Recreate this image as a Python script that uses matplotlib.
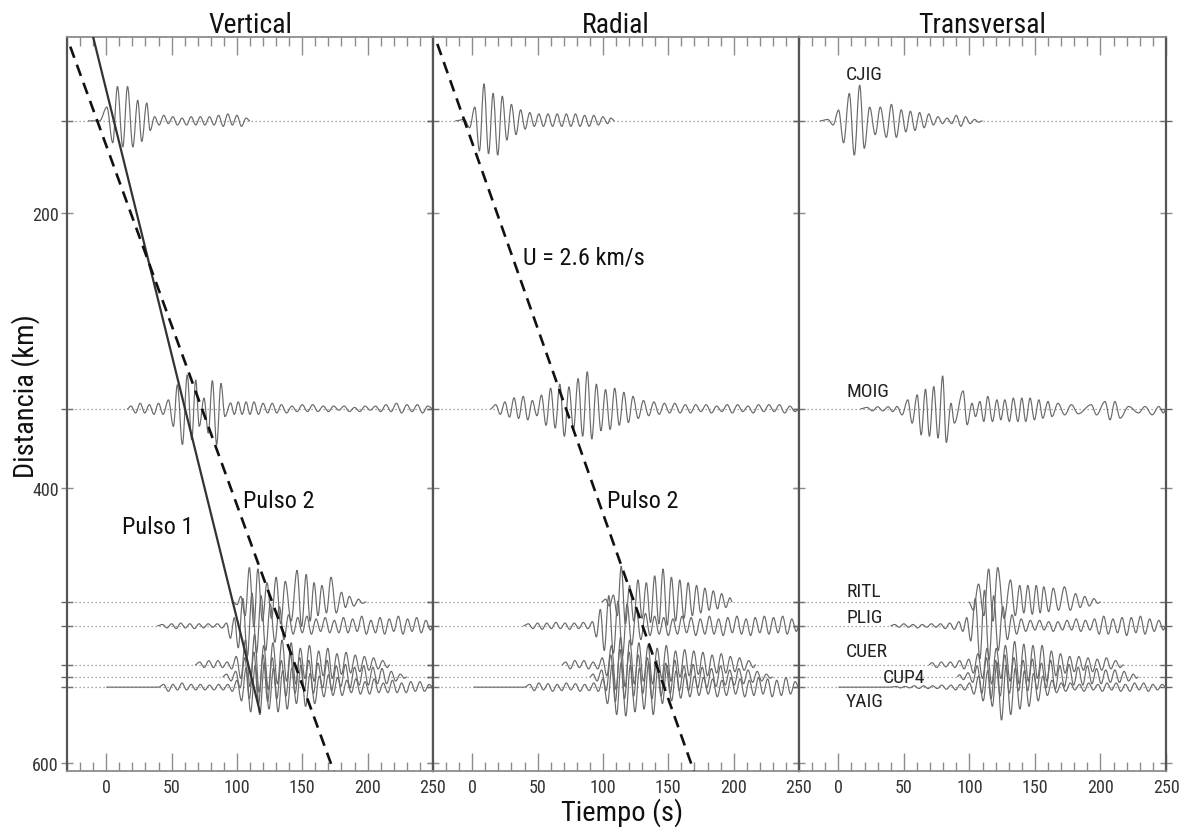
import matplotlib
matplotlib.use("Agg")
import matplotlib.pyplot as plt
import matplotlib.font_manager as fm
from matplotlib.path import Path
from matplotlib.patches import PathPatch
from matplotlib.ticker import MultipleLocator, FixedLocator

# ---------------- data ----------------
components = ["Vertical", "Radial", "Transversal"]
stations = ["CJIG", "MOIG", "RITL", "PLIG", "CUER", "CUP4", "YAIG"]
distances = [133, 342.5, 483, 500.4, 528.7, 537.5, 545]  # km

xticks = [0, 50, 100, 150, 200, 250]
yticks = [200, 400, 600]

# Vertical traces: extrema times (s) and amplitudes (km, up positive)
cjig_z_t = [-14, -5, 0.5, 5, 8.6, 12.7, 16.3, 20.4, 24.1, 27.2, 31, 33.6, 37, 40.5, 44, 47.5, 51, 54.5, 58, 61.5, 65, 68.5, 72, 75.5, 79, 82.5, 86, 89.5, 93, 96.5, 100, 103.5, 107, 110]
cjig_z_a = [0, 0, 10, -16, 25, -19, 25, -19, 15, -15, 13, -7, 3, -3, 4, -2, 3, -3, 2, -3, 3, -3, 3, -3, 3, -3, 4, -4, 5, -3, 4, -4, 2, 0]
moig_z_t = [16, 19, 22.5, 26, 29.5, 33, 36.5, 40, 43.5, 47.6, 51.4, 54.4, 58.3, 62, 65.4, 68.5, 71.2, 74.8, 78.1, 81.2, 84.5, 87.8, 90.8, 95.2, 98, 101, 104, 107, 110, 113, 116.5, 120, 123.5, 127, 130.5, 134, 138, 142, 146, 150, 154, 158, 162, 166, 170, 174, 178, 182, 186, 190, 194, 198, 202, 206, 210, 214, 218, 222, 226, 230, 234, 238, 242, 246, 250]
moig_z_a = [0, 2, -3, 4, -3, 3, -4, 4, -4, 6.5, -12.8, 17.5, -26, 24.7, -22.5, 21, -12.8, 7.8, -17.7, 20.5, -26, 18.5, -5.6, 4.2, -4, 5, -4, 5, -4, 5, -4, 4, -3, 4, -3, 3, -3, 2, -2, 3, -2, 3, -2, 2, -2, 2, -1, 2, -2, 1, -2, 2, -1, 2, -2, 3, -2, 4, -3, 3, -2, 3, -3, 2, 0]
ritl_z_t = [97, 100, 103, 106.3, 109.5, 113, 116, 119.5, 123, 126.5, 130, 133.5, 137, 141.5, 146, 149.5, 153, 156, 159, 162, 165, 168.5, 172, 176, 180, 183, 186, 189.5, 193, 196, 199]
ritl_z_a = [0, -2, 4, -10, 25, -18, 24, -14, 14, -12, 18, -16, 15, -14, 23, -18, 20, -14, 14, -10, 12, -8, 18, -8, 7, -4, 4, -3, 2, -1, 0]
plig_z_t = [39, 43, 46.5, 50, 53.5, 57, 60.5, 64, 67.5, 71, 74.5, 78, 81.5, 85, 88.5, 92, 95, 98, 101, 104.5, 108, 111.5, 115, 118.5, 122, 125.5, 129, 132.5, 136, 139.5, 143, 146.5, 150, 153.5, 157, 160.5, 164, 167.5, 171, 174.5, 178, 181.5, 185, 188.5, 192, 195.5, 199, 202.5, 206, 209.5, 213, 216.5, 220, 223.5, 227, 230.5, 234, 237.5, 241, 244.5, 248, 250]
plig_z_a = [0, 1, -1.5, 1.5, -2, 2, -1.5, 1.5, -2, 1.5, -1.5, 1.5, -1, 1.5, -1.5, 2, -9, 6, -16, 20, -22, 24, -20, 22, -18, 16, -12, 14, -10, 8, -6, 6, -5, 7, -6, 5, -4, 6, -5, 4, -5, 6, -5, 5, -4, 7, -6, 4, -5, 6, -6, 5, -4, 7, -6, 5, -4, 6, -5, 4, -3, 0]
cuer_z_t = [68, 71.5, 75, 78.5, 82, 85.5, 89, 92.5, 96, 99.5, 103, 106.5, 110, 113.5, 117, 120.5, 124, 127.5, 131, 134.5, 138, 141.5, 145, 148.5, 152, 155.5, 159, 162.5, 166, 169.5, 173, 176.5, 180, 183.5, 187, 190.5, 194, 197.5, 201, 204.5, 208, 211.5, 215, 217]
cuer_z_a = [0, 2, -2, 3, -2, 3, -2, 2, -3, 6, -10, 18, -16, 22, -20, 14, -18, 16, -14, 18, -12, 16, -14, 12, -10, 14, -12, 10, -8, 12, -10, 8, -7, 9, -6, 7, -5, 6, -4, 5, -3, 3, -2, 0]
cup4_z_t = [89, 92, 95.5, 99, 102.5, 106, 109.5, 113, 116.5, 120, 123.5, 127, 130.5, 134, 137.5, 141, 144.5, 148, 151.5, 155, 158.5, 162, 165.5, 169, 172.5, 176, 179.5, 183, 186.5, 190, 193.5, 197, 200.5, 204, 207.5, 211, 214.5, 218, 221.5, 225, 228, 230]
cup4_z_a = [0, 2, -3, 4, -8, 14, -16, 18, -20, 16, -18, 14, -16, 12, -14, 16, -12, 14, -10, 12, -12, 10, -8, 12, -10, 8, -7, 9, -8, 7, -6, 8, -6, 7, -5, 6, -5, 4, -3, 2, -1, 0]
yaig_z_t = [0, 40, 44, 47.5, 51, 54.5, 58, 61.5, 65, 68.5, 72, 75.5, 79, 82.5, 86, 89.5, 93, 96.5, 100, 103.5, 107, 110.5, 114, 117.5, 121, 124.5, 128, 131.5, 135, 138.5, 142, 145.5, 149, 152.5, 156, 159.5, 163, 166.5, 170, 173.5, 177, 180.5, 184, 187.5, 191, 194.5, 198, 201.5, 205, 208.5, 212, 215.5, 219, 222.5, 226, 229.5, 233, 236.5, 240, 243.5, 247, 250]
yaig_z_a = [0, 0, 2, -3, 2, -2, 3, -2, 2, -2, 2, -2, 1.5, -2, 2, -2, 2, -3, 5, -10, 14, -18, 16, -20, 18, -16, 14, -18, 12, -16, 14, -12, 16, -14, 10, -12, 8, -7, 9, -6, 7, -6, 5, -4, 6, -5, 4, -5, 6, -4, 3, -4, 5, -4, 3, -4, 4, -3, 4, -3, 2, 0]

# Radial traces
cjig_r_t = [-13, -6, -2, 2, 5.5, 9, 12.5, 16, 19.5, 23, 26.5, 30, 33.5, 37, 40.5, 44, 47.5, 51, 54.5, 58, 61.5, 65, 68.5, 72, 75.5, 79, 82.5, 86, 89.5, 93, 96.5, 100, 103.5, 106, 109]
cjig_r_a = [0, 1, -5, 10, -22, 27, -24, 20, -25, 18, -14, 12, -10, 8, -6, 6, -4, 5, -4, 5, -4, 5, -4, 5, -4, 5, -4, 4, -4, 4, -3, 3, -2, 2, 0]
moig_r_t = [14, 18, 21.5, 25, 28.5, 32, 35.5, 39, 42.5, 46, 49.5, 53, 56.5, 60, 63.5, 67, 70.5, 74, 77.5, 81, 84.5, 88, 91.5, 95, 98.5, 102, 105.5, 109, 112.5, 116, 119.5, 123, 127, 131, 135, 139, 143, 147, 151, 155, 159, 163, 167, 171, 175, 179, 183, 187, 191, 195, 199, 203, 207, 211, 215, 219, 223, 227, 231, 235, 239, 243, 247, 250]
moig_r_a = [0, 3, -4, 5, -6, 8, -7, 9, -8, 6, -5, 10, -12, 15, -14, 18, -20, 16, -15, 22, -20, 27, -22, 18, -16, 14, -15, 15, -12, 12, -10, 9, -7, 6, -5, 5, -4, 4, -3, 4, -3, 3, -3, 3, -2, 3, -3, 2, -2, 3, -3, 3, -2, 2, -3, 3, -2, 3, -2, 3, -3, 2, -2, 0]
ritl_r_t = [99, 102, 105, 108, 111, 114, 117.2, 120.4, 123.6, 126.8, 130, 133.2, 136.4, 139.6, 142.8, 146, 149.2, 152.4, 155.6, 158.8, 162, 165.2, 168.4, 171.6, 174.8, 178, 181.2, 184.4, 187.6, 190.8, 194, 197.2, 199]
ritl_r_a = [0, 2, -3, 5, -10, 26, -16, 12, -14, 16, -12, 14, -15, 19, -16, 24, -17, 18, -14, 16, -12, 14, -10, 12, -8, 10, -6, 8, -5, 6, -4, 3, 0]
plig_r_t = [39, 43, 46.5, 50, 53.5, 57, 60.5, 64, 67.5, 71, 74.5, 78, 81.5, 85, 88.5, 92, 95, 98, 101, 104.5, 108, 111.5, 115, 118.5, 122, 125.5, 129, 132.5, 136, 139.5, 143, 146.5, 150, 153.5, 157, 160.5, 164, 167.5, 171, 174.5, 178, 181.5, 185, 188.5, 192, 195.5, 199, 202.5, 206, 209.5, 213, 216.5, 220, 223.5, 227, 230.5, 234, 237.5, 241, 244.5, 248, 250]
plig_r_a = [0, 1.5, -2, 2, -2.5, 2, -2, 2.5, -2, 2, -2.5, 2, -2, 2.5, -2, 3, -8, 12, -18, 22, -20, 18, -22, 16, -14, 12, -10, 9, -7, 7, -6, 6, -7, 5, -6, 7, -5, 6, -7, 5, -6, 7, -6, 5, -7, 6, -5, 7, -6, 5, -7, 6, -5, 7, -6, 6, -5, 7, -6, 5, -4, 0]
cuer_r_t = [68.5, 71.5, 75, 78.5, 82, 85.5, 89, 92.5, 96, 99.5, 103, 106.5, 110, 113.5, 117, 120.5, 124, 127.5, 131, 134.5, 138, 141.5, 145, 148.5, 152, 155.5, 159, 162.5, 166, 169.5, 173, 176.5, 180, 183.5, 187, 190.5, 194, 197.5, 201, 204.5, 208, 211.5, 215, 217]
cuer_r_a = [0, 2, -3, 3, -2, 3, -3, 2, -3, 5, -8, 14, -18, 20, -16, 18, -14, 16, -12, 14, -14, 12, -10, 14, -12, 10, -9, 11, -8, 10, -7, 9, -8, 7, -6, 8, -6, 6, -5, 5, -4, 3, -2, 0]
cup4_r_t = [90, 92.5, 95.5, 99, 102.5, 106, 109.5, 113, 116.5, 120, 123.5, 127, 130.5, 134, 137.5, 141, 144.5, 148, 151.5, 155, 158.5, 162, 165.5, 169, 172.5, 176, 179.5, 183, 186.5, 190, 193.5, 197, 200.5, 204, 207.5, 211, 214.5, 218, 221.5, 225, 228, 230]
cup4_r_a = [0, 2, -3, 5, -10, 16, -18, 20, -16, 18, -14, 16, -12, 14, -16, 12, -14, 10, -12, 12, -10, 8, -10, 9, -8, 7, -8, 6, -7, 8, -6, 5, -6, 6, -5, 5, -4, 4, -3, 2, -1, 0]
yaig_r_t = [1, 40, 44, 47.5, 51, 54.5, 58, 61.5, 65, 68.5, 72, 75.5, 79, 82.5, 86, 89.5, 93, 96.5, 100, 103.5, 107, 110.5, 114, 117.5, 121, 124.5, 128, 131.5, 135, 138.5, 142, 145.5, 149, 152.5, 156, 159.5, 163, 166.5, 170, 173.5, 177, 180.5, 184, 187.5, 191, 194.5, 198, 201.5, 205, 208.5, 212, 215.5, 219, 222.5, 226, 229.5, 233, 236.5, 240, 243.5, 247, 250]
yaig_r_a = [0, 0, 2, -2.5, 3, -2, 2.5, -3, 2, -2.5, 3, -2, 2.5, -3, 2, -2.5, 3, -3, 6, -12, 16, -20, 18, -21, 16, -18, 14, -16, 18, -20, 14, -12, 16, -10, 12, -8, 10, -7, 8, -6, 7, -5, 6, -7, 5, -6, 7, -5, 6, -7, 5, -6, 7, -5, 6, -7, 5, -6, 7, -5, 4, 0]

# Transversal traces
cjig_t_t = [-14, -8, -4, 0.2, 4, 8.4, 12.2, 16.3, 19.8, 23.9, 28.2, 32, 36.6, 40.5, 44.3, 48, 51.5, 55, 58.5, 62, 65.5, 69, 72.5, 76, 79.5, 83, 86.5, 90, 93.5, 97, 100.5, 104, 107, 110]
cjig_t_a = [0, 1, -3, 7.8, -16, 20, -25, 26, -20, 10, -10, 10, -12, 12, -12, 8, -8, 7, -7, 6, -5, 5, -3, 3, -2, 2, -2, 4, -4, 3, -2, 1, -1, 0]
moig_t_t = [16.8, 22, 26, 30, 34, 38, 41.5, 44.8, 48.6, 53, 56.3, 60.2, 63.2, 66.5, 69.5, 72.8, 76.1, 79.6, 82.4, 86, 88.5, 95.2, 98.3, 102, 104.7, 108, 111, 114, 117.6, 121, 124, 127, 130.5, 133.5, 137, 140, 143, 146.3, 149.6, 153, 156, 160, 163, 167.6, 172.7, 177.8, 183, 193, 197, 203.5, 207.3, 211, 215, 221.5, 229, 234, 239.5, 244.5, 248, 250]
moig_t_a = [0, 1, -1.5, 1.5, -1.5, 1.5, -2, 1.7, -4.4, 6.5, -10.4, 10.2, -19, 14.3, -20, 16.2, -21.3, 24, -24.5, 4, -10.4, 13, -11.6, 4, -5.6, 5.3, -9.2, 9, -9.2, 6.5, -8, 6.5, -9.2, 7.8, -9.2, 7.8, -9.2, 7.8, -8, 6.5, -6.8, 5.3, -5.6, 4, -4.4, 3, -3.6, 3, -4.4, 5.3, -8, 5.3, -6.8, 1.7, -3, 1.7, -4.4, 1.7, -3, 0]
ritl_t_t = [99.5, 103, 107, 111, 114.7, 118, 121.6, 126.5, 131.3, 135, 138.4, 141.5, 144.6, 148, 151, 154, 156.7, 160.5, 164, 168, 172.5, 177, 181, 184.5, 188, 191.5, 195, 198, 200]
ritl_t_a = [0, -6, 13, -10, 24, -14, 25, -12, 16, -10, 12, -8, 12, -9, 12, -8, 11, -7, 10, -6, 11, -6, 6, -4, 4, -3, 2.4, -1, 0]
plig_t_t = [39.7, 43, 46.5, 50, 53.5, 57, 60.5, 64, 67.5, 71, 74.5, 78, 81.5, 85, 88.5, 92, 95, 98, 101, 104.5, 108, 111.5, 115, 118.5, 122, 125.5, 129, 132.5, 136, 139.5, 143, 146.5, 150, 153.5, 157, 160.5, 164, 167.5, 171, 174.5, 178, 181.5, 185, 188.5, 192, 195.5, 199, 202.5, 206, 209.5, 213, 216.5, 220, 223.5, 227, 230.5, 234, 237.5, 241, 244.5, 248, 250]
plig_t_a = [0, 1, -1, 1.5, -1, 1, -1.5, 1, -1, 1.5, -1, 1.5, -2, 2, -2.5, 3, -4, 6, -11, 20, -24, 26, -25, 22, -18, 14, -10, 8, -6, 5, -4, 4, -3, 4, -3, 3, -4, 3, -3, 4, -3, 5, -4, 4, -3, 5, -6, 7, -6, 5, -5, 6, -7, 6, -5, 7, -6, 5, -4, 4, -3, 0]
cuer_t_t = [69, 71.5, 75, 78.5, 82, 85.5, 89, 92.5, 96, 99.5, 103, 106.5, 110, 113.5, 117, 120.5, 124, 127.5, 131, 134.5, 138, 141.5, 145, 148.5, 152, 155.5, 159, 162.5, 166, 169.5, 173, 176.5, 180, 183.5, 187, 190.5, 194, 197.5, 201, 204.5, 208, 211.5, 215, 217.6]
cuer_t_a = [0, 1.5, -2, 2, -1.5, 2, -2, 3, -3, 4, -6, 8, -10, 12, -14, 12, -10, 14, -12, 17, -14, 15, -12, 14, -10, 14, -12, 10, -8, 8, -6, 6, -5, 6, -4, 5, -5, 4, -4, 5, -3, 3, -2, 0]
cup4_t_t = [90.6, 92.5, 95.5, 99, 102.5, 106, 109.5, 113, 116.5, 120, 123.5, 127, 130.5, 134, 137.5, 141, 144.5, 148, 151.5, 155, 158.5, 162, 165.5, 169, 172.5, 176, 179.5, 183, 186.5, 190, 193.5, 197, 200.5, 204, 207.5, 211, 214.5, 218, 221.5, 225, 227.5, 229]
cup4_t_a = [0, 1.5, -2, 3, -4, 8, -12, 14, -16, 12, -14, 16, -12, 14, -10, 12, -10, 13, -9, 10, -8, 12, -9, 8, -7, 9, -6, 7, -6, 8, -5, 6, -5, 5, -4, 5, -4, 4, -3, 2, -1, 0]
yaig_t_t = [0, 40, 44, 47.5, 51, 54.5, 58, 61.5, 65, 68.5, 72, 75.5, 79, 82.5, 86, 89.5, 93, 96.5, 100, 103.5, 107, 110.5, 114, 117.5, 121, 124.5, 128, 131.5, 135, 138.5, 142, 145.5, 149, 152.5, 156, 159.5, 163, 166.5, 170, 173.5, 177, 180.5, 184, 187.5, 191, 194.5, 198, 201.5, 205, 208.5, 212, 215.5, 219, 222.5, 226, 229.5, 233, 236.5, 240, 243.5, 247, 250]
yaig_t_a = [0, 0, 0.5, -0.5, 0.5, -0.5, 1, -1, 1, -1, 1, -1, 1.5, -1.5, 1.5, -2, 2, -2, 3, -5, 8, -10, 12, -14, 18, -24, 16, -20, 14, -16, 12, -14, 10, -10, 8, -6, 5, -4, 3, -3, 3, -2, 2, -3, 3, -2, 2, -3, 3, -2, 3, -3, 2, -3, 3, -2, 3, -3, 2, -2, 2, 0]

# Group-velocity lines (time s, distance km)
pulso1_z_t = [-10, 117.6]
pulso1_z_d = [72, 563]
pulso2_z_t = [-27.5, 174]
pulso2_z_d = [79, 606]
pulso2_r_t = [-26.7, 169.5]
pulso2_r_d = [77, 606]

# Station labels shown in transversal panel (time s, distance km)
label_t = [5.3, 6, 6, 6, 6, 33.6, 6]
label_d = [99, 329.5, 475, 494, 518.5, 537.5, 555]

# ---------------- style ----------------
names = {f.name for f in fm.fontManager.ttflist}
narrow = None
for cand in ["Liberation Sans Narrow", "Arial Narrow", "Roboto Condensed", "Open Sans Condensed"]:
    if cand in names:
        narrow = cand
        break
if narrow:
    FAM = narrow
    S_TITLE, S_LABEL, S_ANN, S_U, S_TICK, S_STA = 20, 20.5, 17.5, 17.5, 13, 14
else:
    FAM = "Liberation Sans"
    S_TITLE, S_LABEL, S_ANN, S_U, S_TICK, S_STA = 19, 18.5, 15.5, 16, 12, 11.5
plt.rcParams["font.family"] = [FAM, "DejaVu Sans"]

TRACE_C = "#6a6a6a"
SPINE_C = "#8c8c8c"

def wiggle(ax, t, a, d):
    verts = [(t[0], d - a[0])]
    codes = [Path.MOVETO]
    for i in range(1, len(t)):
        t0, t1 = t[i - 1], t[i]
        y0, y1 = d - a[i - 1], d - a[i]
        k = 0.36 * (t1 - t0)
        verts += [(t0 + k, y0), (t1 - k, y1), (t1, y1)]
        codes += [Path.CURVE4] * 3
    ax.add_patch(PathPatch(Path(verts, codes), fill=False, edgecolor=TRACE_C,
                           lw=0.85, zorder=3))

traces = {
    "Vertical": [(cjig_z_t, cjig_z_a), (moig_z_t, moig_z_a), (ritl_z_t, ritl_z_a),
                 (plig_z_t, plig_z_a), (cuer_z_t, cuer_z_a), (cup4_z_t, cup4_z_a),
                 (yaig_z_t, yaig_z_a)],
    "Radial": [(cjig_r_t, cjig_r_a), (moig_r_t, moig_r_a), (ritl_r_t, ritl_r_a),
               (plig_r_t, plig_r_a), (cuer_r_t, cuer_r_a), (cup4_r_t, cup4_r_a),
               (yaig_r_t, yaig_r_a)],
    "Transversal": [(cjig_t_t, cjig_t_a), (moig_t_t, moig_t_a), (ritl_t_t, ritl_t_a),
                    (plig_t_t, plig_t_a), (cuer_t_t, cuer_t_a), (cup4_t_t, cup4_t_a),
                    (yaig_t_t, yaig_t_a)],
}

W, H = 1182, 828
fig = plt.figure(figsize=(W / 100, H / 100), dpi=100)
lefts = [67, 433, 799]
widths = [366, 366, 367]
top_px, bot_px = 38, 772

axes = []
for i, comp in enumerate(components):
    ax = fig.add_axes([lefts[i] / W, 1 - bot_px / H, widths[i] / W, (bot_px - top_px) / H])
    axes.append(ax)
    ax.set_xlim(-30, 250)
    ax.set_ylim(606, 72)
    for s in ax.spines.values():
        s.set_color(SPINE_C)
        s.set_linewidth(1.3)
    for s in ("left", "right"):
        ax.spines[s].set_color("#555555")
        ax.spines[s].set_linewidth(1.6)

    ax.xaxis.set_major_locator(FixedLocator(xticks))
    ax.xaxis.set_minor_locator(MultipleLocator(10))
    ax.tick_params(axis="x", which="major", direction="in", length=13, width=1.0,
                   color=SPINE_C, top=True, bottom=True, labelsize=S_TICK,
                   labelcolor="#333333", pad=5)
    ax.tick_params(axis="x", which="minor", direction="in", length=6.5, width=1.0,
                   color=SPINE_C, top=True, bottom=True)
    ax.set_yticks(yticks)
    ax.set_yticks(distances, minor=True)
    ax.tick_params(axis="y", which="major", direction="inout", length=8, width=1.0,
                   color=SPINE_C, left=True, right=True, labelsize=S_TICK,
                   labelcolor="#333333", pad=2, labelleft=(i == 0))
    ax.tick_params(axis="y", which="minor", direction="inout", length=8, width=1.0,
                   color="#666666", left=True, right=True)

    for d in distances:
        ax.axhline(d, ls=(0, (1, 2.2)), lw=0.9, color="#8a8a8a", zorder=2)
    for (t, a), d in zip(traces[comp], distances):
        wiggle(ax, t, a, d)

    fig.text((lefts[i] + widths[i] / 2) / W, 1 - 33 / H, comp, ha="center",
             va="baseline", fontsize=S_TITLE, color="#111111")

ax1, ax2, ax3 = axes
ax1.plot(pulso1_z_t, pulso1_z_d, color="#333333", lw=1.6, zorder=5)
ax1.plot(pulso2_z_t, pulso2_z_d, color="#111111", lw=1.9, dashes=(4.5, 2.8), zorder=5)
ax2.plot(pulso2_r_t, pulso2_r_d, color="#111111", lw=1.9, dashes=(4.5, 2.8), zorder=5)

ax1.text(12, 428, "Pulso 1", fontsize=S_ANN, va="center", ha="left", color="#111111")
ax1.text(105, 409.5, "Pulso 2", fontsize=S_ANN, va="center", ha="left", color="#111111")
ax2.text(103, 409.5, "Pulso 2", fontsize=S_ANN, va="center", ha="left", color="#111111")
ax2.text(39, 232, "U = 2.6 km/s", fontsize=S_U, va="center", ha="left", color="#111111")

for name, t, d in zip(stations, label_t, label_d):
    ax3.text(t, d, name, fontsize=S_STA, va="center", ha="left", color="#222222", zorder=6)

fig.text(622 / W, 1 - 821 / H, "Tiempo (s)", ha="center", va="baseline",
         fontsize=S_LABEL, color="#111111")
fig.text(26 / W, 1 - 396 / H, "Distancia (km)", ha="center", va="center",
         rotation=90, fontsize=S_LABEL, color="#111111")

fig.savefig("out.png", dpi=100)
